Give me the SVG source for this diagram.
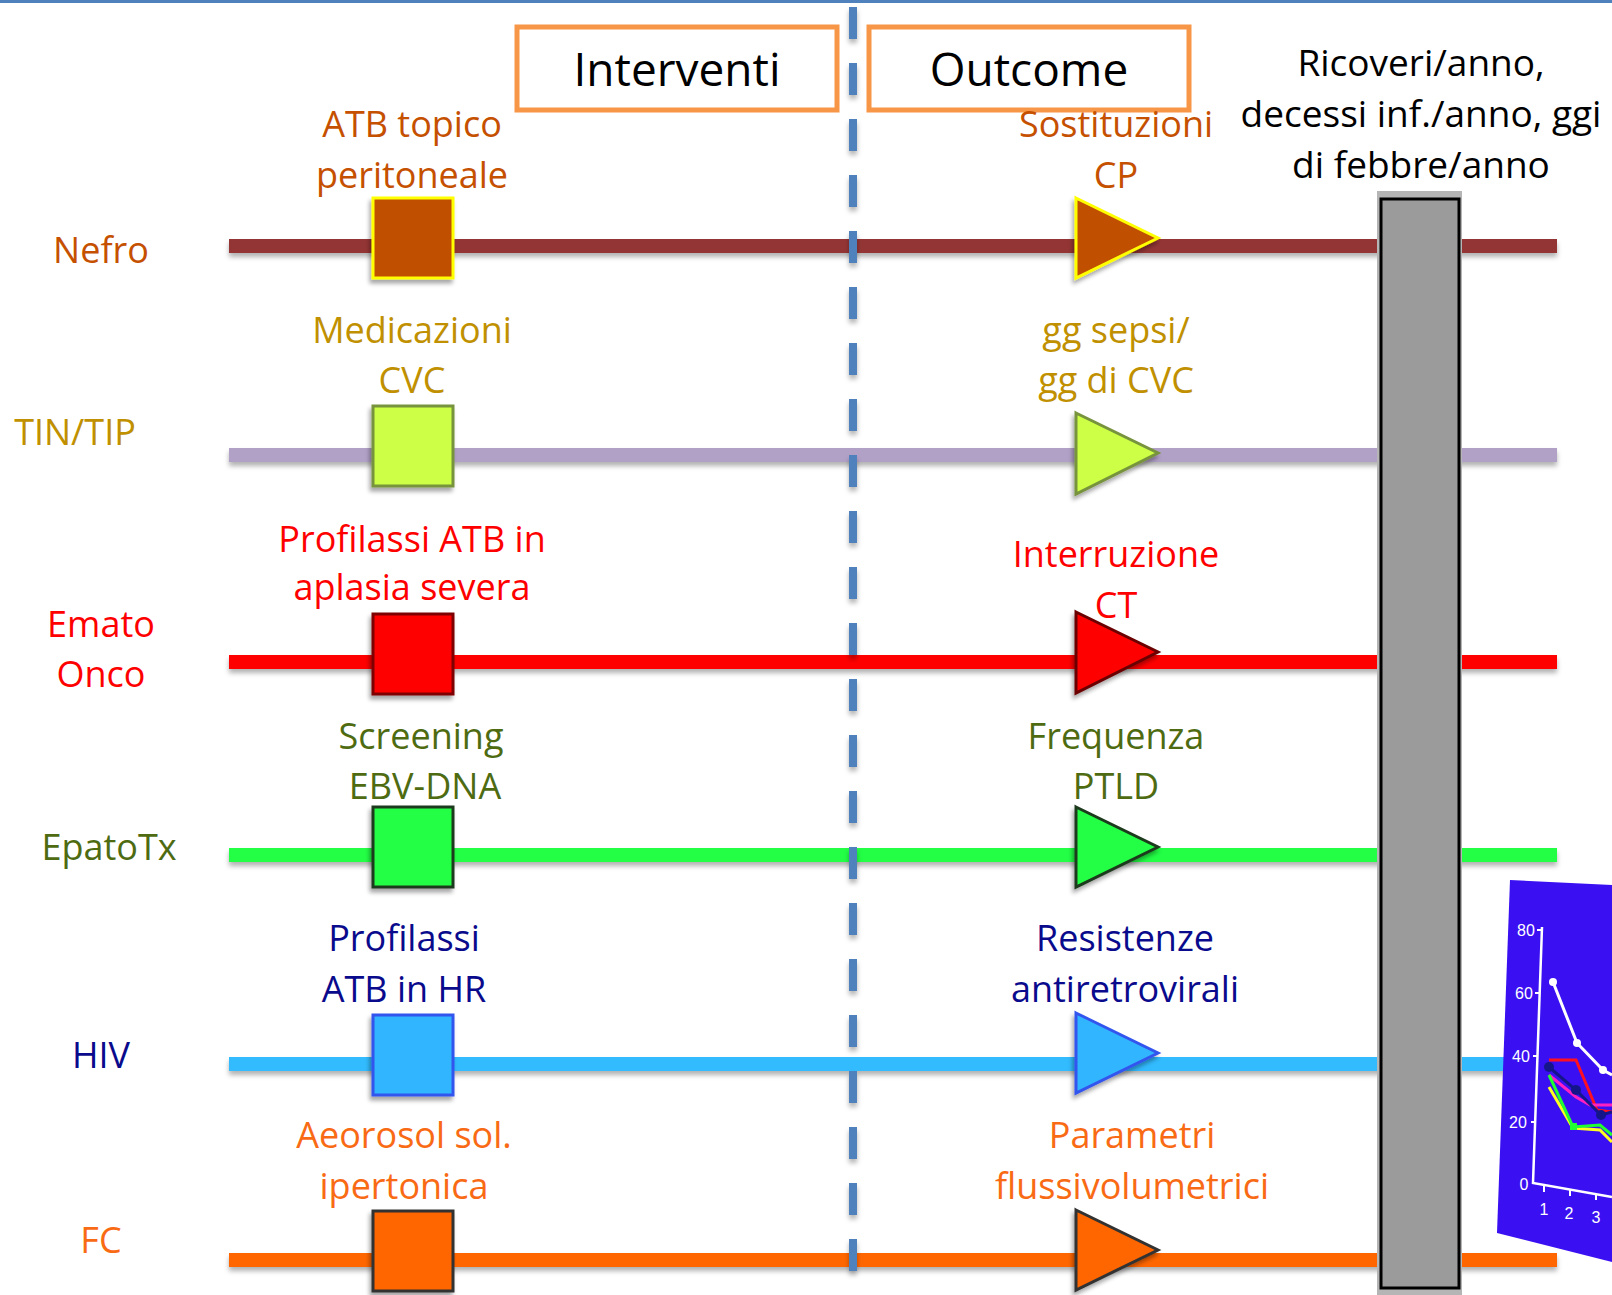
<svg xmlns="http://www.w3.org/2000/svg" width="1612" height="1295" viewBox="0 0 1612 1295">
<defs>
<filter id="sh" x="-10%" y="-50%" width="120%" height="200%">
<feDropShadow dx="-2" dy="4" stdDeviation="2" flood-color="#000" flood-opacity="0.35"/>
</filter>
<filter id="shl" filterUnits="userSpaceOnUse" x="0" y="0" width="1612" height="1295">
<feDropShadow dx="0" dy="4" stdDeviation="2.5" flood-color="#000" flood-opacity="0.3"/>
</filter>
</defs>
<style>
text{font-family:"Open Sans","Noto Sans","Liberation Sans",sans-serif;font-size:36px;text-anchor:middle}
.t{font-size:46px;fill:#000}
.r{font-size:37px;fill:#000}
.lane{stroke-width:14;fill:none;filter:url(#shl)}
.sq{stroke-width:3;filter:url(#sh)}
.c1{fill:#C55000}.c2{fill:#C09000}.c3{fill:#FF0000}.c4{fill:#4E6B12}.c5{fill:#0A0A8C}.c6{fill:#F96A14}
.ax{fill:#fff;font-family:"Liberation Sans",Arial,sans-serif;font-size:16px}
</style>
<rect width="1612" height="1295" fill="#fff"/>
<rect x="0" y="0" width="1612" height="3" fill="#4F81BD"/>

<g id="header">
<rect x="517" y="27" width="320" height="83" fill="#fff" stroke="#F79646" stroke-width="5"/>
<text class="t" x="677" y="86">Interventi</text>
<rect x="869" y="27" width="320" height="83" fill="#fff" stroke="#F79646" stroke-width="5"/>
<text class="t" x="1029" y="86">Outcome</text>
<text class="r" x="1421" y="76">Ricoveri/anno,</text>
<text class="r" x="1421" y="127">decessi inf./anno, ggi</text>
<text class="r" x="1421" y="178">di febbre/anno</text>
</g>

<g id="connectors">
<line class="lane" x1="229" y1="246" x2="1557" y2="246" stroke="#943634"/>
<line class="lane" x1="229" y1="455" x2="1557" y2="455" stroke="#B2A1C7"/>
<line class="lane" x1="229" y1="662" x2="1557" y2="662" stroke="#FF0000"/>
<line class="lane" x1="229" y1="855" x2="1557" y2="855" stroke="#22FF44"/>
<line class="lane" x1="229" y1="1064" x2="1557" y2="1064" stroke="#33BBFF"/>
<line class="lane" x1="229" y1="1260" x2="1557" y2="1260" stroke="#FF6600"/>
<line x1="853" y1="7" x2="853" y2="1275" stroke="#4F81BD" stroke-width="8" stroke-dasharray="32 24" filter="url(#shl)"/>
</g>

<g id="nefro">
<text class="c1" x="101" y="263">Nefro</text>
<text class="c1" x="412" y="137">ATB topico</text>
<text class="c1" x="412" y="188">peritoneale</text>
<rect class="sq" x="373" y="198" width="80" height="80" fill="#C05000" stroke="#FFFF00"/>
<text class="c1" x="1116" y="137">Sostituzioni</text>
<text class="c1" x="1116" y="188">CP</text>
<polygon class="sq" points="1076,198 1158,238 1076,278" fill="#C05000" stroke="#FFFF00"/>
</g>

<g id="tin">
<text class="c2" x="75" y="445">TIN/TIP</text>
<text class="c2" x="412" y="343">Medicazioni</text>
<text class="c2" x="412" y="393">CVC</text>
<rect class="sq" x="373" y="406" width="80" height="80" fill="#CCFF44" stroke="#77933C"/>
<text class="c2" x="1116" y="343">gg sepsi/</text>
<text class="c2" x="1116" y="393">gg di CVC</text>
<polygon class="sq" points="1076,413 1158,453 1076,494" fill="#CCFF44" stroke="#77933C"/>
</g>

<g id="emato">
<text class="c3" x="101" y="637">Emato</text>
<text class="c3" x="101" y="687">Onco</text>
<text class="c3" x="412" y="552">Profilassi ATB in</text>
<text class="c3" x="412" y="600">aplasia severa</text>
<rect class="sq" x="373" y="614" width="80" height="80" fill="#FF0000" stroke="#7F0000"/>
<text class="c3" x="1116" y="567">Interruzione</text>
<text class="c3" x="1116" y="618">CT</text>
<polygon class="sq" points="1076,612 1158,652 1076,693" fill="#FF0000" stroke="#6B0000"/>
</g>

<g id="epatotx">
<text class="c4" x="109" y="860">EpatoTx</text>
<text class="c4" x="421" y="749">Screening</text>
<text class="c4" x="425" y="799">EBV-DNA</text>
<rect class="sq" x="373" y="807" width="80" height="80" fill="#22FF44" stroke="#1E3A1E"/>
<text class="c4" x="1116" y="749">Frequenza</text>
<text class="c4" x="1116" y="799">PTLD</text>
<polygon class="sq" points="1076,807 1158,847 1076,887" fill="#22FF44" stroke="#1E3A1E"/>
</g>

<g id="hiv">
<text class="c5" x="101" y="1068">HIV</text>
<text class="c5" x="404" y="951">Profilassi</text>
<text class="c5" x="404" y="1002">ATB in HR</text>
<rect class="sq" x="373" y="1015" width="80" height="80" fill="#33B5FF" stroke="#3355EE"/>
<text class="c5" x="1125" y="951">Resistenze</text>
<text class="c5" x="1125" y="1002">antiretrovirali</text>
<polygon class="sq" points="1076,1013 1158,1053 1076,1093" fill="#33B5FF" stroke="#3355EE"/>
</g>

<g id="fc">
<text class="c6" x="101" y="1253">FC</text>
<text class="c6" x="404" y="1148">Aeorosol sol.</text>
<text class="c6" x="404" y="1199">ipertonica</text>
<rect class="sq" x="373" y="1211" width="80" height="80" fill="#FF6600" stroke="#333"/>
<text class="c6" x="1132" y="1148">Parametri</text>
<text class="c6" x="1132" y="1199">flussivolumetrici</text>
<polygon class="sq" points="1076,1210 1158,1250 1076,1290" fill="#FF6600" stroke="#333"/>
</g>

<g id="bar">
<rect x="1377" y="191" width="85" height="1104" fill="#B5B5B5"/>
<rect x="1381" y="199" width="78" height="1089" fill="#9B9B9B" stroke="#000" stroke-width="3"/>
</g>

<g id="chart">
<polygon points="1510,880 1612,885 1612,1262 1497,1233" fill="#3A10F2"/>
<polyline points="1542,927 1533,1183 1612,1197" fill="none" stroke="#fff" stroke-width="2.5"/>
<g stroke="#fff" stroke-width="2">
<line x1="1537" y1="930" x2="1542" y2="930"/>
<line x1="1535" y1="993" x2="1540" y2="993"/>
<line x1="1533" y1="1056" x2="1538" y2="1056"/>
<line x1="1531" y1="1122" x2="1536" y2="1122"/>
<line x1="1544" y1="1186" x2="1544" y2="1192"/>
<line x1="1570" y1="1190" x2="1570" y2="1196"/>
<line x1="1596" y1="1194" x2="1596" y2="1200"/>
</g>
<text class="ax" x="1526" y="936">80</text>
<text class="ax" x="1524" y="999">60</text>
<text class="ax" x="1521" y="1062">40</text>
<text class="ax" x="1518" y="1128">20</text>
<text class="ax" x="1524" y="1190">0</text>
<text class="ax" x="1544" y="1215">1</text>
<text class="ax" x="1569" y="1219">2</text>
<text class="ax" x="1596" y="1223">3</text>
<g fill="none" stroke-width="3">
<polyline points="1553,982 1577,1043 1603,1070 1612,1075" stroke="#fff"/>
<polyline points="1549,1060 1576,1060 1597,1110 1612,1112" stroke="#FF1020"/>
<polyline points="1549,1075 1576,1097 1590,1105 1612,1105" stroke="#FF20C0"/>
<polyline points="1549,1067 1576,1090 1601,1115 1612,1112" stroke="#15158A"/>
<polyline points="1549,1087 1573,1128 1600,1130 1612,1142" stroke="#FFFF20"/>
<polyline points="1549,1075 1573,1127 1600,1125 1612,1135" stroke="#20FF30"/>
</g>
<circle cx="1553" cy="982" r="4" fill="#fff"/>
<circle cx="1577" cy="1043" r="4" fill="#fff"/>
<circle cx="1603" cy="1070" r="4" fill="#fff"/>
<circle cx="1549" cy="1067" r="5" fill="#15158A"/>
<circle cx="1576" cy="1090" r="5" fill="#15158A"/>
<circle cx="1601" cy="1115" r="5" fill="#15158A"/>
<rect x="1570" y="1123" width="7" height="7" fill="#20FF30"/>
</g>
</svg>
